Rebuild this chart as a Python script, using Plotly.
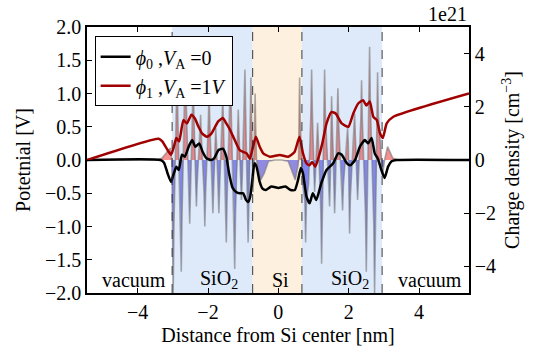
import plotly.graph_objects as go

# ---------------- data ----------------
# region boundaries [nm]
boundaries = [-3.02, -0.73, 0.67, 2.95]
region_names = ["vacuum", "SiO<sub>2</sub>", "Si", "SiO<sub>2</sub>", "vacuum"]
region_label_x = [-4.1, -1.7, 0.05, 2.05, 4.3]

# potential, V_A = 0  [V]
x_phi0 = [-5.44, -3.35, -3.25, -3.15, -3.05, -2.97, -2.9, -2.83, -2.74, -2.66, -2.55, -2.45,
          -2.36, -2.25, -2.15, -2.05, -1.92, -1.82, -1.7, -1.58, -1.48, -1.4, -1.3, -1.2,
          -1.1, -1.0, -0.92, -0.86, -0.8, -0.74, -0.68, -0.62, -0.53, -0.45, -0.35, -0.2,
          0.0, 0.2, 0.35, 0.47, 0.56, 0.64, 0.7, 0.8, 0.89, 0.98, 1.08, 1.22, 1.37, 1.56,
          1.7, 1.8, 1.95, 2.04, 2.18, 2.32, 2.46, 2.55, 2.65, 2.74, 2.83, 2.93, 3.02, 3.12,
          3.22, 3.35, 5.42]
phi0 = [0.0, 0.0, -0.04, -0.2, -0.33, -0.2, -0.1, -0.15, 0.08, 0.05, 0.2, 0.3,
        0.2, 0.25, 0.12, 0.03, 0.0, 0.03, 0.15, 0.17, 0.05, -0.2, -0.42, -0.48,
        -0.5, -0.5, -0.6, -0.63, -0.55, -0.3, -0.05, -0.1, -0.33, -0.43, -0.45, -0.4,
        -0.42, -0.4, -0.45, -0.45, -0.3, -0.12, -0.2, -0.55, -0.65, -0.5, -0.6, -0.35, -0.15, -0.05,
        0.1, 0.08, -0.05, -0.08, 0.0, 0.2, 0.3, 0.25, 0.33, 0.1, 0.02, -0.15, -0.27, -0.1,
        -0.02, 0.0, 0.0]

# potential, V_A = 1 V  [V]
x_phi1 = [-5.44, -3.4, -3.3, -3.15, -3.05, -2.97, -2.9, -2.82, -2.7, -2.6, -2.47, -2.37,
          -2.27, -2.17, -2.03, -1.9, -1.71, -1.58, -1.48, -1.37, -1.24, -1.1, -0.99, -0.9,
          -0.81, -0.72, -0.64, -0.53, -0.43, -0.24, 0.04, 0.28, 0.46, 0.6, 0.7, 0.8,
          0.88, 0.96, 1.05, 1.15, 1.25, 1.37, 1.51, 1.63, 1.8, 1.99, 2.13, 2.27, 2.41,
          2.5, 2.6, 2.7, 2.8, 2.89, 2.97, 3.08, 3.27, 5.42]
phi1 = [0.0, 0.32, 0.28, 0.15, 0.08, 0.2, 0.33, 0.28, 0.6, 0.55, 0.68, 0.62,
        0.5, 0.4, 0.35, 0.4, 0.58, 0.63, 0.55, 0.45, 0.3, 0.15, 0.12, 0.1,
        0.02, 0.2, 0.35, 0.2, 0.1, 0.05, 0.075, 0.05, 0.12, 0.35, 0.1, -0.05,
        -0.08, -0.03, -0.1, 0.05, 0.25, 0.55, 0.72, 0.7, 0.55, 0.5, 0.7, 0.85, 0.9,
        0.82, 0.88, 0.65, 0.6, 0.4, 0.33, 0.55, 0.65, 1.0]

# charge density [1e21 cm^-3]  (sharp atomic peaks with broad bases)
x_rho = [-5.44, -3.45, -3.3, -3.15, -3.07, -3.03,
         -3.012, -2.99, -2.968, -2.902, -2.88, -2.858, -2.782, -2.76, -2.738,
         -2.662, -2.64, -2.618, -2.542, -2.52, -2.498, -2.442, -2.42, -2.398,
         -2.352, -2.33, -2.308, -2.232, -2.21, -2.188, -2.112, -2.09, -2.068,
         -1.992, -1.97, -1.948, -1.882, -1.86, -1.838, -1.802, -1.78, -1.758,
         -1.712, -1.69, -1.668, -1.602, -1.58, -1.558, -1.502, -1.48, -1.458,
         -1.382, -1.36, -1.338, -1.262, -1.24, -1.218, -1.162, -1.14, -1.118,
         -1.072, -1.05, -1.028, -0.972, -0.95, -0.928, -0.882, -0.86, -0.838,
         -0.8, -0.78, -0.762, -0.735, -0.72, -0.705, -0.675, -0.66, -0.645,
         -0.62, -0.58, -0.5, -0.4, -0.28, -0.1, 0.1, 0.28, 0.4, 0.48, 0.56, 0.575,
         0.588, 0.605, 0.622, 0.69, 0.754, 0.776, 0.798, 0.86,
         0.924, 0.946, 0.968, 1.009, 1.031, 1.053, 1.094, 1.116, 1.138,
         1.208, 1.23, 1.252, 1.293, 1.315, 1.337, 1.437, 1.457, 1.474,
         1.497, 1.514, 1.536, 1.578, 1.6, 1.622, 1.671, 1.693, 1.715,
         1.805, 1.827, 1.849, 1.947, 1.969, 1.988, 2.007, 2.026, 2.048,
         2.146, 2.168, 2.19, 2.231, 2.253, 2.275, 2.344, 2.366, 2.388,
         2.478, 2.5, 2.522, 2.572, 2.594, 2.616, 2.714, 2.736, 2.758,
         2.799, 2.821, 2.843, 2.94, 2.963, 2.99, 3.02, 3.105, 3.25, 3.4, 5.42]
rho = [0.0, 0.0, 0.08, 0.3, 0.45, 0.0,
       -2.5, -5.0, -2.5, 1.65, 3.3, 1.65, -2.1, -4.2, -2.1,
       2.1, 4.2, 2.1, -1.2, -2.4, -1.2, 1.5, 3.0, 1.5,
       -0.88, -1.75, -0.88, 0.85, 1.7, 0.85, -1.25, -2.5, -1.25,
       1.35, 2.7, 1.35, -1.0, -2.0, -1.0, 0.6, 1.2, 0.6,
       -1.0, -2.0, -1.0, 1.2, 2.4, 1.2, -1.55, -3.1, -1.55,
       1.7, 3.4, 1.7, -2.05, -4.1, -2.05, 0.95, 1.9, 0.95,
       -0.75, -1.5, -0.75, 1.7, 3.4, 1.7, -1.55, -3.1, -1.55,
       1.55, 3.1, 1.55, -0.6, -1.2, -0.6, 1.25, 2.5, 1.25,
       0.0, -0.3, -0.75, -0.5, -0.05, 0.0, 0.0, -0.05, -0.5, -0.75, -0.2, 0.0,
       1.55, 3.1, 1.55, -0.9, -1.55, -3.1, -1.55, -0.9,
       1.7, 3.4, 1.7, -0.6, -1.2, -0.6, 0.7, 1.4, 0.7,
       -1.95, -3.9, -1.95, 1.7, 3.4, 1.7, -0.88, -1.75, -0.88,
       1.2, 2.4, 1.2, -1.0, -2.0, -1.0, 1.35, 2.7, 1.35,
       -0.95, -1.9, -0.95, 0.6, 1.2, 0.6, -1.38, -2.76, -1.38,
       0.88, 1.75, 0.88, -0.75, -1.5, -0.75, 1.5, 3.0, 1.5,
       -2.1, -4.2, -2.1, 2.13, 4.26, 2.13, -2.5, -5.0, -2.5,
       1.65, 3.3, 1.65, -0.4, -0.6, -0.3, 0.0, 0.5, 0.08, 0.0, 0.0]

# axis ticks
x_ticks = [-4, -2, 0, 2, 4]
rho_ticks = [-4, -2, 0, 2, 4]

# ---------------- helpers ----------------
FONT = "Liberation Serif"
FS = 20


def sign_parts(xs, ys):
    """Insert the exact zero crossings so that positive / negative parts can be filled."""
    ox, oy = [xs[0]], [ys[0]]
    for i in range(1, len(xs)):
        x0, y0, x1, y1 = xs[i - 1], ys[i - 1], xs[i], ys[i]
        if y0 * y1 < 0:
            xc = x0 + (x1 - x0) * (0 - y0) / (y1 - y0)
            ox.append(xc)
            oy.append(0.0)
        ox.append(x1)
        oy.append(y1)
    pos = [max(v, 0.0) for v in oy]
    neg = [min(v, 0.0) for v in oy]
    return ox, pos, neg


fx, fpos, fneg = sign_parts(x_rho, rho)

fig = go.Figure()

# charge density (base axis 'y', on the right side, drawn below the potentials)
fig.add_trace(go.Scatter(x=fx, y=fpos, yaxis="y", mode="lines", line=dict(width=0),
                         fill="tozeroy", fillcolor="rgba(235,35,35,0.5)",
                         showlegend=False, hoverinfo="skip"))
fig.add_trace(go.Scatter(x=fx, y=fneg, yaxis="y", mode="lines", line=dict(width=0),
                         fill="tozeroy", fillcolor="rgba(35,35,225,0.5)",
                         showlegend=False, hoverinfo="skip"))
fig.add_trace(go.Scatter(x=x_rho, y=rho, yaxis="y", mode="lines",
                         line=dict(color="rgba(120,120,120,0.6)", width=1.6),
                         showlegend=False))

# potentials (overlay axis 'y2', on the left side)
fig.add_trace(go.Scatter(x=x_phi0, y=phi0, yaxis="y2", mode="lines",
                         line=dict(color="black", width=2.5, shape="spline", smoothing=0.5),
                         name="<i>ϕ</i><sub>0</sub> ,<i>V</i><sub>A</sub> =0"))
fig.add_trace(go.Scatter(x=x_phi1, y=phi1, yaxis="y2", mode="lines",
                         line=dict(color="#a00000", width=2.5, shape="spline", smoothing=0.5),
                         name="<i>ϕ</i><sub>1</sub> ,<i>V</i><sub>A</sub> =1<i>V</i>"))

# background regions
shapes = []
fills = [None, "rgb(222,234,250)", "rgb(253,240,222)", "rgb(222,234,250)", None]
edges = [-5.44] + boundaries + [5.42]
for i, c in enumerate(fills):
    if c:
        shapes.append(dict(type="rect", xref="x", yref="paper", x0=edges[i], x1=edges[i + 1],
                           y0=0, y1=1, fillcolor=c, line=dict(width=0), layer="below"))
for b in boundaries:
    shapes.append(dict(type="line", xref="x", yref="paper", x0=b, x1=b, y0=0, y1=1,
                       line=dict(color="rgba(40,40,40,0.9)", width=1, dash="dash"), layer="above"))

annotations = []
for name, xl in zip(region_names, region_label_x):
    annotations.append(dict(x=xl, y=0.05, xref="x", yref="paper", text=name, showarrow=False,
                            font=dict(family=FONT, size=FS, color="black"), yanchor="middle"))
annotations.append(dict(x=1, y=1, xref="paper", yref="paper", text="1e21", showarrow=False,
                        xanchor="right", yanchor="bottom", yshift=0,
                        font=dict(family=FONT, size=FS, color="black")))

axis_common = dict(showgrid=False, zeroline=False, showline=True, linecolor="black",
                   linewidth=1.5, ticks="inside", ticklen=5, tickcolor="black",
                   automargin=False,
                   tickfont=dict(family=FONT, size=FS, color="black"))

fig.update_layout(
    width=537, height=351,
    margin=dict(l=87, r=68, t=27, b=58),
    paper_bgcolor="white", plot_bgcolor="white",
    shapes=shapes, annotations=annotations,
    xaxis=dict(range=[-5.44, 5.42], tickvals=x_ticks, mirror="ticks",
               title=dict(text="Distance from Si center [nm]", standoff=6,
                          font=dict(family=FONT, size=FS, color="black")),
               **axis_common),
    yaxis=dict(range=[-5, 5], tickvals=rho_ticks, side="right",
               title=dict(text="Charge density [cm<sup>−3</sup>]", standoff=10,
                          font=dict(family=FONT, size=FS, color="black")),
               **axis_common),
    yaxis2=dict(range=[-2, 2], dtick=0.5, tickformat=".1f", side="left", overlaying="y",
                title=dict(text="Potetnial [V]", standoff=9,
                           font=dict(family=FONT, size=FS, color="black")),
                **axis_common),
    legend=dict(x=0.02, y=0.965, xanchor="left", yanchor="top", bgcolor="white",
                bordercolor="black", borderwidth=1,
                font=dict(family=FONT, size=FS, color="black")),
    showlegend=True,
)

fig.write_html("out.html", config={"displayModeBar": False},
               post_script="document.body.style.margin='0px';document.body.style.overflow='hidden';")
